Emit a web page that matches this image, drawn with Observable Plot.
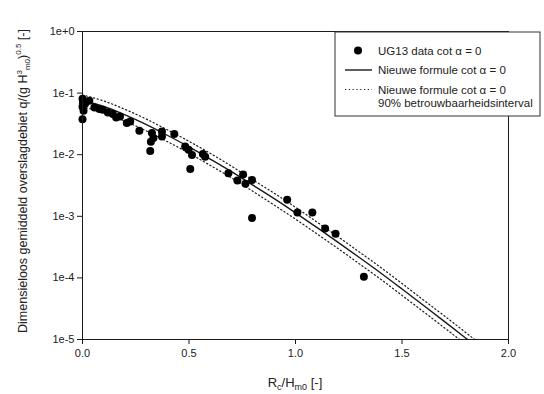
<!DOCTYPE html>
<html><head><meta charset="utf-8">
<script src="https://cdn.jsdelivr.net/npm/d3@7"></script>
<script src="https://cdn.jsdelivr.net/npm/@observablehq/plot@0.6"></script>
<style>
body{margin:0;background:#fff;}
#chart svg{font-family:"Liberation Sans",Arial,sans-serif;}
</style>
</head><body><div id="chart"></div>
<script>
// Measured data points (Rc/Hm0, q/sqrt(g Hm0^3))
const dataX = [0.000,0.002,0.000,0.005,0.000,0.012,0.032,0.056,0.079,0.095,0.119,0.142,0.158,0.176,0.208,0.224,0.267,0.326,0.333,0.321,0.318,0.373,0.373,0.431,0.482,0.498,0.514,0.506,0.565,0.576,0.685,0.727,0.754,0.765,0.796,0.796,0.961,1.009,1.079,1.139,1.188,1.321];
const dataY = [0.081,0.0698,0.060,0.0517,0.0376,0.0672,0.0752,0.0585,0.0551,0.0537,0.0485,0.0457,0.0402,0.0417,0.0326,0.0346,0.0244,0.0224,0.0186,0.0163,0.0115,0.0238,0.0197,0.0216,0.0136,0.0120,0.0099,0.00587,0.0103,0.0093,0.0050,0.00381,0.00478,0.00338,0.00389,0.00094,0.00186,0.00115,0.00115,0.000635,0.000519,0.000104];

// Curves
const lineX = [0,0.1,0.2,0.3,0.4,0.5,0.6,0.7,0.8,0.9,1.0,1.1,1.2,1.3,1.4,1.5,1.6,1.7,1.8,1.9];
const formulaY = [0.0758,0.0606,0.0442,0.0307,0.0205,0.0134,0.0085,0.0053,0.0032,0.00193,0.00114,0.00066,0.000378,0.000214,0.00012,0.000066,0.000036,0.0000195,0.0000105,0.0000056];
const upperY = [0.0932,0.0745,0.0544,0.0378,0.0252,0.0165,0.0105,0.0065,0.0039,0.00237,0.0014,0.00081,0.000465,0.000263,0.000148,0.000081,0.000044,0.000024,0.0000129,0.0000069];
const lowerY = [0.0599,0.0479,0.0349,0.0243,0.0162,0.0106,0.0067,0.0042,0.00254,0.00152,0.0009,0.00052,0.000299,0.000169,0.000095,0.000052,0.0000284,0.0000154,0.0000083,0.0000044];

const xTicks = [0,0.5,1,1.5,2];
const xTickLabels = ["0.0","0.5","1.0","1.5","2.0"];
const yTicks = [1e-5,1e-4,1e-3,1e-2,1e-1,1];
const yTickLabels = ["1e-5","1e-4","1e-3","1e-2","1e-1","1e+0"];

const legendLabels = ["UG13 data cot α = 0","Nieuwe formule cot α = 0","Nieuwe formule cot α = 0","90% betrouwbaarheidsinterval"];

const points = dataX.map((x,i)=>({x, y:dataY[i]}));
const curve = (ys)=>lineX.map((x,i)=>({x, y:ys[i]}));

const ink = "#1a1a1a";
const chart = Plot.plot({
  width: 544, height: 394,
  marginLeft: 82, marginRight: 36, marginTop: 31, marginBottom: 55,
  style: {background:"#fff", color: ink, fontSize: "11px"},
  x: {domain:[0,2], label:null},
  y: {type:"log", domain:[1e-5,1], label:null},
  marks: [
    Plot.line(curve(upperY), {x:"x", y:"y", stroke:ink, strokeWidth:1.2, strokeDasharray:"1.2,2.6", curve:"monotone-x", clip:true}),
    Plot.line(curve(lowerY), {x:"x", y:"y", stroke:ink, strokeWidth:1.2, strokeDasharray:"1.2,2.6", curve:"monotone-x", clip:true}),
    Plot.line(curve(formulaY), {x:"x", y:"y", stroke:ink, strokeWidth:1.4, curve:"monotone-x", clip:true}),
    Plot.dot(points, {x:"x", y:"y", r:4, fill:"#000", stroke:"none"}),
    Plot.frame({stroke:ink, strokeWidth:1}),
    Plot.axisX({ticks:xTicks, tickFormat:(d)=>xTickLabels[xTicks.indexOf(d)], tickSize:5, tickPadding:5, label:null}),
    Plot.axisY({ticks:yTicks, tickFormat:(d)=>yTickLabels[yTicks.findIndex(t=>Math.abs(Math.log10(t)-Math.log10(d))<1e-6)], tickSize:5, tickPadding:3, label:null})
  ]
});
document.getElementById("chart").appendChild(chart);

const svg = d3.select(chart);
// Y axis title
const yt = svg.append("text")
  .attr("transform","translate(27,181) rotate(-90)")
  .attr("text-anchor","middle").attr("fill","#222").style("font-size","12.5px");
yt.append("tspan").text("Dimensieloos gemiddeld overslagdebiet q/(g H");
yt.append("tspan").attr("dy","-5").style("font-size","8px").text("3");
yt.append("tspan").attr("dy","8").style("font-size","8px").text("m0");
yt.append("tspan").attr("dy","-3").text(")");
yt.append("tspan").attr("dy","-6").style("font-size","8px").text("0.5");
yt.append("tspan").attr("dy","6").text(" [-]");

// X axis title
const xt = svg.append("text")
  .attr("x",295).attr("y",387)
  .attr("text-anchor","middle").attr("fill","#222").style("font-size","13px");
xt.append("tspan").text("R");
xt.append("tspan").attr("dy","3").style("font-size","9px").text("c");
xt.append("tspan").attr("dy","-3").text("/H");
xt.append("tspan").attr("dy","3").style("font-size","9px").text("m0");
xt.append("tspan").attr("dy","-3").text(" [-]");

// Legend
const lg = svg.append("g").attr("text-anchor","start");
lg.append("rect").attr("x",335).attr("y",32).attr("width",205).attr("height",84)
  .attr("fill","#fff").attr("stroke","#333").attr("stroke-width",1);
lg.append("circle").attr("cx",358).attr("cy",50.5).attr("r",4).attr("fill","#000");
lg.append("line").attr("x1",345).attr("x2",372).attr("y1",70).attr("y2",70).attr("stroke",ink).attr("stroke-width",1.4);
lg.append("line").attr("x1",345).attr("x2",372).attr("y1",89.5).attr("y2",89.5).attr("stroke",ink).attr("stroke-width",1.2).attr("stroke-dasharray","1.2,2.6");
const lys = [54.5,74,93.5,106.5];
legendLabels.forEach((t,i)=>{
  lg.append("text").attr("x",378).attr("y",lys[i]).attr("text-anchor","start").attr("fill","#222").style("font-size","11.5px").text(t);
});
</script>
</body></html>
